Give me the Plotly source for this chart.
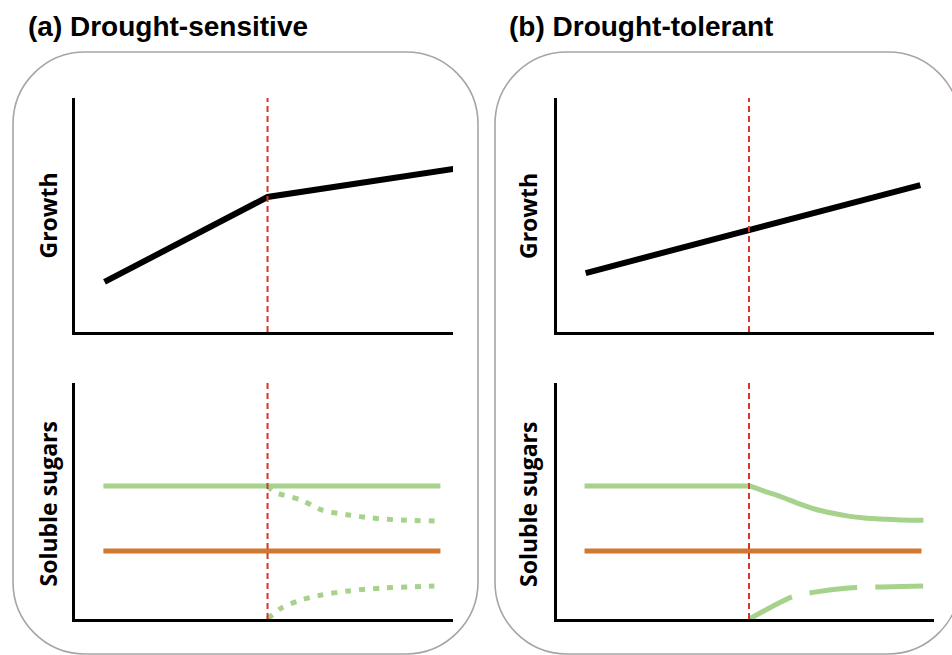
import plotly.graph_objects as go

W, H = 952, 655

# ---------------- data ----------------
threshold = 50.8  # drought onset (x position of red dashed line)

# (a) Drought-sensitive — growth
growth_a_x = [7.9, 50.8, 99.7]
growth_a_y = [21.4, 57.7, 69.7]
# (b) Drought-tolerant — growth
growth_b_x = [7.7, 96.0]
growth_b_y = [25.2, 62.8]

# (a) soluble sugars
green_a_x = [7.6, 96.3]
green_a_y = [56.4, 56.4]
orange_a_x = [7.6, 96.3]
orange_a_y = [28.8, 28.8]
dot_up_a_x = [50.8, 52.6, 59.7, 65.0, 72.1, 78.2, 86.1, 96.3]
dot_up_a_y = [56.4, 53.8, 50.4, 46.2, 44.1, 42.8, 41.9, 41.5]
dot_lo_a_x = [50.8, 54.5, 59.7, 65.0, 72.1, 80.8, 88.7, 94.7]
dot_lo_a_y = [0.0, 4.7, 8.1, 10.2, 11.9, 13.1, 13.6, 14.0]

# (b) soluble sugars
green_b_flat_x = [7.4, 50.9]
green_b_flat_y = [56.4, 56.4]
green_b_x = [50.9, 55.1, 59.4, 63.9, 68.1, 72.6, 77.0, 81.3, 85.8, 91.3, 96.8]
green_b_y = [56.4, 54.0, 51.7, 48.9, 46.6, 44.9, 43.6, 42.8, 42.4, 41.9, 41.8]
orange_b_x = [7.4, 96.3]
orange_b_y = [28.8, 28.8]
dash_lo_b_x = [50.9, 56.7, 62.0, 68.1, 77.0, 85.8, 96.8]
dash_lo_b_y = [0.0, 5.1, 9.3, 11.4, 13.1, 13.6, 14.0]

panel_titles = ["(a) Drought-sensitive", "(b) Drought-tolerant"]
y_titles = ["Growth", "Soluble sugars"]

# ---------------- styling ----------------
BLACK = "#000000"
GREEN = "#A6D28C"
ORANGE = "#D0782E"
RED = "#D6352B"
BOX = "#ABA3A3"


def px(x):
    return x / W


def py(y):
    return 1 - y / H


fig = go.Figure()

x_dom = {"a": [px(74.5), px(453)], "b": [px(556.5), px(934)]}
y_dom = {"up": [py(332), py(98)], "lo": [py(619), py(383)]}

axes_map = {
    ("a", "up"): ("x", "y"),
    ("a", "lo"): ("x2", "y2"),
    ("b", "up"): ("x3", "y3"),
    ("b", "lo"): ("x4", "y4"),
}


def add_line(xs, ys, axes, color, width, dash="solid", shape="linear"):
    fig.add_trace(go.Scatter(
        x=xs, y=ys, mode="lines", xaxis=axes[0], yaxis=axes[1],
        line=dict(color=color, width=width, dash=dash, shape=shape, smoothing=0.8),
        showlegend=False, hoverinfo="skip"))


# growth
add_line(growth_a_x, growth_a_y, axes_map[("a", "up")], BLACK, 6)
add_line(growth_b_x, growth_b_y, axes_map[("b", "up")], BLACK, 6)

# sugars (a)
ax = axes_map[("a", "lo")]
add_line(green_a_x, green_a_y, ax, GREEN, 5)
add_line(orange_a_x, orange_a_y, ax, ORANGE, 5)
add_line(dot_up_a_x, dot_up_a_y, ax, GREEN, 5, dash="6px,8px", shape="spline")
add_line(dot_lo_a_x, dot_lo_a_y, ax, GREEN, 5, dash="6px,8px", shape="spline")

# sugars (b)
ax = axes_map[("b", "lo")]
add_line(green_b_flat_x, green_b_flat_y, ax, GREEN, 5)
add_line(green_b_x, green_b_y, ax, GREEN, 5, shape="spline")
add_line(orange_b_x, orange_b_y, ax, ORANGE, 5)
add_line(dash_lo_b_x, dash_lo_b_y, ax, GREEN, 5, dash="48px,18px", shape="spline")

layout_axes = {}
for (panel, row), (xa, ya) in axes_map.items():
    xkey = "xaxis" if xa == "x" else "xaxis" + xa[1:]
    ykey = "yaxis" if ya == "y" else "yaxis" + ya[1:]
    common = dict(showgrid=False, zeroline=False, showticklabels=False, ticks="",
                  showline=True, linecolor=BLACK, linewidth=3, mirror=False,
                  fixedrange=True)
    layout_axes[xkey] = dict(domain=x_dom[panel], anchor=ya,
                             range=[0, 100 * (1 - 1.5 / 380)], **common)
    layout_axes[ykey] = dict(domain=y_dom[row], anchor=xa, range=[0, 100], **common)
    # red dashed threshold line
    fig.add_shape(type="line", xref=xa, yref=ya + " domain",
                  x0=threshold, x1=threshold, y0=0, y1=1,
                  line=dict(color=RED, width=2, dash="6px,4px"), layer="above")

fig.update_layout(**layout_axes)


# rounded boxes
def rounded_box(l, t, r, b, rad):
    k = 0.5523 * rad
    pts = [
        f"M {px(l + rad)},{py(t)}",
        f"L {px(r - rad)},{py(t)}",
        f"C {px(r - rad + k)},{py(t)} {px(r)},{py(t + rad - k)} {px(r)},{py(t + rad)}",
        f"L {px(r)},{py(b - rad)}",
        f"C {px(r)},{py(b - rad + k)} {px(r - rad + k)},{py(b)} {px(r - rad)},{py(b)}",
        f"L {px(l + rad)},{py(b)}",
        f"C {px(l + rad - k)},{py(b)} {px(l)},{py(b - rad + k)} {px(l)},{py(b - rad)}",
        f"L {px(l)},{py(t + rad)}",
        f"C {px(l)},{py(t + rad - k)} {px(l + rad - k)},{py(t)} {px(l + rad)},{py(t)}",
        "Z",
    ]
    return " ".join(pts)


for (l, r) in [(13, 478), (495, 960)]:
    fig.add_shape(type="path", xref="paper", yref="paper",
                  path=rounded_box(l, 52, r, 654, 72),
                  line=dict(color=BOX, width=1.6), layer="below")

annotations = []
for i, title in enumerate(panel_titles):
    annotations.append(dict(
        text=title, xref="paper", yref="paper",
        x=px([26, 507][i]), y=py(27), xanchor="left", yanchor="middle",
        showarrow=False,
        font=dict(family="Liberation Sans, Arial, sans-serif", size=28,
                  color=BLACK, weight="bold")))

for cx in [47.5, 528]:
    for title, cy in zip(y_titles, [216, 504]):
        annotations.append(dict(
            text=title, xref="paper", yref="paper", x=px(cx), y=py(cy),
            xanchor="center", yanchor="middle", textangle=-90, showarrow=False,
            font=dict(family="Open Sans, sans-serif", size=23, color=BLACK,
                      weight="bold")))

fig.update_layout(
    width=W, height=H,
    margin=dict(l=0, r=0, t=0, b=0),
    paper_bgcolor="white", plot_bgcolor="rgba(0,0,0,0)",
    annotations=annotations,
    showlegend=False,
)

fig.write_html("out.html", config={"displayModeBar": False, "staticPlot": True})
